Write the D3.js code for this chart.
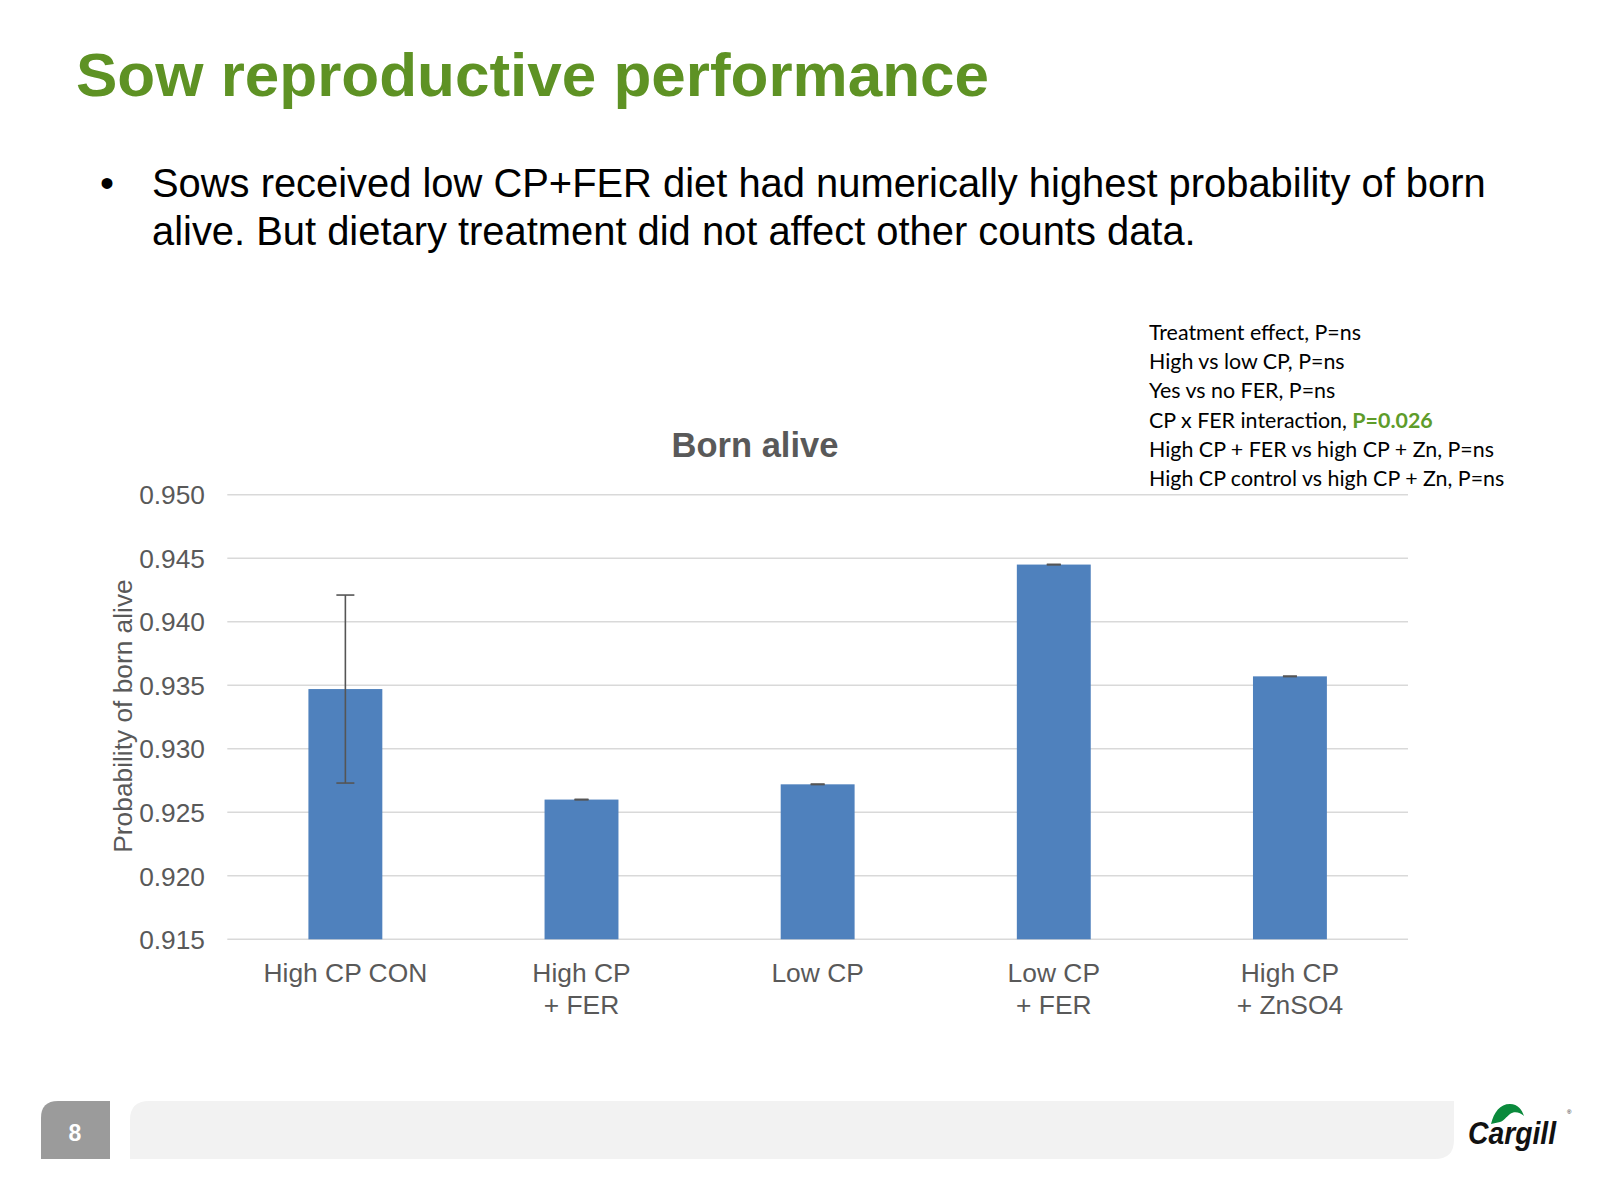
<!DOCTYPE html>
<html>
<head>
<meta charset="utf-8">
<script src="https://cdn.jsdelivr.net/npm/d3@7"></script>
<style>
  html, body { margin: 0; padding: 0; background: #fff; }
  svg { display: block; }
</style>
</head>
<body>
<script>
// ---- data ----
const categories = [["High CP CON"], ["High CP", "+ FER"], ["Low CP"], ["Low CP", "+ FER"], ["High CP", "+ ZnSO4"]];
const values = [0.9347, 0.9260, 0.9272, 0.9445, 0.9357];
const errors = [0.0074, 0.00002, 0.00002, 0.00002, 0.00002];
const yTicks = [0.915, 0.920, 0.925, 0.930, 0.935, 0.940, 0.945, 0.950];
const yDomain = [0.915, 0.950];
const pageTitle = "Sow reproductive performance";
const bulletLines = ["Sows received low CP+FER diet had numerically highest probability of born",
                     "alive. But dietary treatment did not affect other counts data."];
const chartTitle = "Born alive";
const yAxisTitle = "Probability of born alive";
const statLines = [
  ["Treatment effect, P=ns", ""],
  ["High vs low CP, P=ns", ""],
  ["Yes vs no FER, P=ns", ""],
  ["CP x FER interaction, ", "P=0.026"],
  ["High CP + FER vs high CP + Zn, P=ns", ""],
  ["High CP control vs high CP + Zn, P=ns", ""]
];
const pageNumber = "8";

// ---- drawing ----
const W = 1600, H = 1200;
const svg = d3.select("body").append("svg").attr("width", W).attr("height", H);
const green = "#5E9224";
const grey = "#595959";

// page title
svg.append("text").attr("x", 76).attr("y", 96)
  .attr("font-family", "Liberation Sans, Arial, sans-serif").attr("font-weight", "bold")
  .attr("font-size", 62).attr("fill", green).text(pageTitle);

// bullet
svg.append("text").attr("x", 100).attr("y", 197)
  .attr("font-family", "Liberation Sans, Arial, sans-serif").attr("font-size", 40)
  .attr("fill", "#000").text("•");
bulletLines.forEach((t, i) => {
  svg.append("text").attr("x", 152).attr("y", 197 + i * 48)
    .attr("font-family", "Liberation Sans, Arial, sans-serif").attr("font-size", 39.9)
    .attr("fill", "#000").text(t);
});

// stats annotation
const st = svg.append("g");
statLines.forEach((l, i) => {
  const t = st.append("text").attr("x", 1149).attr("y", 340 + i * 29.2)
    .attr("font-family", "Lato, 'Open Sans', sans-serif").attr("font-size", 21.4).attr("fill", "#000");
  t.append("tspan").text(l[0]);
  if (l[1]) t.append("tspan").attr("font-weight", "bold").attr("fill", "#5E9C2A").text(l[1]);
});

// chart
const x0 = 227.3, x1 = 1408;
const x = d3.scaleBand().domain(d3.range(values.length)).range([x0, x1]).padding(0);
const y = d3.scaleLinear().domain(yDomain).range([939.3, 494.7]);
const barW = x.bandwidth() * 0.313;

// gridlines
svg.append("g").selectAll("line").data(yTicks).join("line")
  .attr("x1", x0).attr("x2", x1)
  .attr("y1", d => y(d)).attr("y2", d => y(d))
  .attr("stroke", "#D9D9D9").attr("stroke-width", 1.5);

// y axis labels
const yAxis = d3.axisLeft(y).tickValues(yTicks).tickFormat(d3.format(".3f")).tickSize(0).tickPadding(0);
const ya = svg.append("g").attr("transform", `translate(205,0)`).call(yAxis);
ya.select(".domain").remove();
ya.selectAll("text").attr("font-family", "Liberation Sans, Arial, sans-serif")
  .attr("font-size", 26.3).attr("fill", grey).attr("dy", "0.35em");

// y axis title
svg.append("text").attr("transform", `translate(132,716) rotate(-90)`)
  .attr("text-anchor", "middle")
  .attr("font-family", "Liberation Sans, Arial, sans-serif").attr("font-size", 26.3)
  .attr("fill", grey).text(yAxisTitle);

// chart title
svg.append("text").attr("x", 755).attr("y", 457).attr("text-anchor", "middle")
  .attr("font-family", "Liberation Sans, Arial, sans-serif").attr("font-weight", "bold")
  .attr("font-size", 34.5).attr("fill", grey).text(chartTitle);

// bars
svg.append("g").selectAll("rect").data(values).join("rect")
  .attr("x", (d, i) => x(i) + x.bandwidth() / 2 - barW / 2)
  .attr("width", barW)
  .attr("y", d => y(d))
  .attr("height", d => y(yDomain[0]) - y(d))
  .attr("fill", "#4F81BD");

// error bars
const eg = svg.append("g").attr("stroke", "#555").attr("stroke-width", 1.6);
values.forEach((v, i) => {
  const cx = x(i) + x.bandwidth() / 2;
  const e = errors[i];
  const cw = e > 0.001 ? 9 : 7;
  eg.append("line").attr("x1", cx).attr("x2", cx).attr("y1", y(v + e)).attr("y2", y(v - e));
  eg.append("line").attr("x1", cx - cw).attr("x2", cx + cw).attr("y1", y(v + e)).attr("y2", y(v + e));
  eg.append("line").attr("x1", cx - cw).attr("x2", cx + cw).attr("y1", y(v - e)).attr("y2", y(v - e));
});

// category labels
categories.forEach((c, i) => {
  const cx = x(i) + x.bandwidth() / 2;
  c.forEach((line, j) => {
    svg.append("text").attr("x", cx).attr("y", 982 + j * 32).attr("text-anchor", "middle")
      .attr("font-family", "Liberation Sans, Arial, sans-serif").attr("font-size", 26.4)
      .attr("fill", grey).text(line);
  });
});

// footer
svg.append("path")
  .attr("d", "M41,1159 L41,1118 Q41,1101 58,1101 L110,1101 L110,1159 Z")
  .attr("fill", "#9B9B9B");
svg.append("text").attr("x", 75).attr("y", 1141).attr("text-anchor", "middle")
  .attr("font-family", "Liberation Sans, Arial, sans-serif").attr("font-weight", "bold")
  .attr("font-size", 23).attr("fill", "#fff").text(pageNumber);
svg.append("path")
  .attr("d", "M130,1159 L130,1120 Q130,1101 149,1101 L1454,1101 L1454,1140 Q1454,1159 1435,1159 Z")
  .attr("fill", "#F2F2F2");

// Cargill logo
svg.append("path")
  .attr("d", "M1491,1124 C1494,1112 1500,1104 1510,1104 C1518,1104 1522,1110 1524,1116 C1520,1112 1514,1111 1510,1114 C1506,1117 1504,1121 1500,1122 C1497,1123 1494,1123 1491,1124 Z")
  .attr("fill", "#0A8A3C");
svg.append("text").attr("x", 1468).attr("y", 1144)
  .attr("font-family", "'Liberation Sans Narrow', 'Liberation Sans', Arial, sans-serif")
  .attr("font-weight", "bold").attr("font-style", "italic").attr("font-size", 32)
  .attr("textLength", 88).attr("lengthAdjust", "spacingAndGlyphs")
  .attr("fill", "#111").text("Cargill");
svg.append("text").attr("x", 1567).attr("y", 1114).attr("font-family", "Liberation Sans, Arial")
  .attr("font-size", 6).attr("fill", "#111").text("®");
</script>
</body>
</html>
